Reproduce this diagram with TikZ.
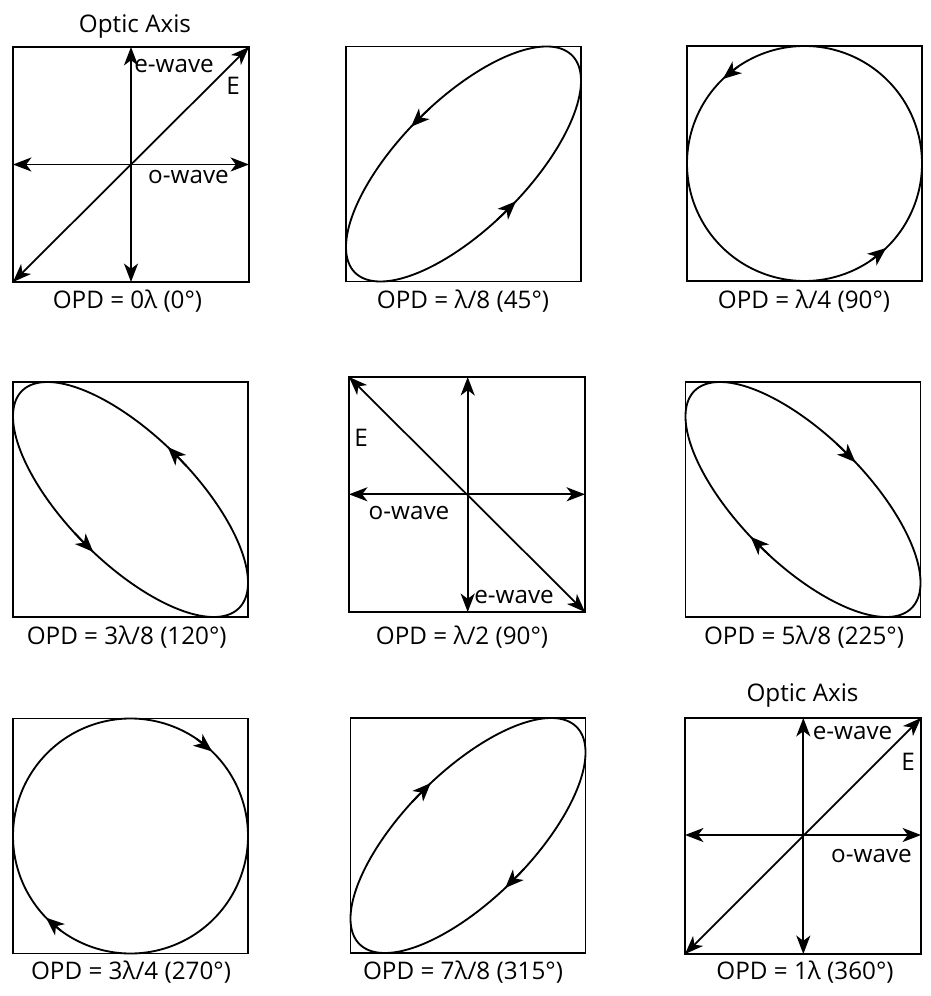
\documentclass[tikz,border=0pt]{standalone}
\usepackage{fontspec}
\setmainfont{Open Sans}
\usetikzlibrary{arrows.meta}
\begin{document}
\begin{tikzpicture}[x=0.02cm,y=-0.02cm,
  frame/.style={line width=0.9pt},
  curve/.style={line width=1.05pt},
  axis/.style={line width=1pt,{Stealth[length=10.5pt,width=8pt,inset=3pt]}-{Stealth[length=10.5pt,width=8pt,inset=3pt]}},
  tip/.style={line width=1pt,-{Stealth[length=10.5pt,width=8.5pt,inset=3pt]}},
  lbl/.style={font=\fontsize{13.8}{16}\selectfont, inner sep=0pt, anchor=base},
]
\useasboundingbox (0,0) rectangle (930,996);

\newcommand\ellbox[5]{% cx cy delta t1 t2
  \draw[frame] (#1-117.5,#2-117.5) rectangle (#1+117.5,#2+117.5);
  \draw[curve] plot[domain=0:359,samples=360] ({#1+117.5*cos(\x)},{#2-117.5*cos(\x-#3)}) -- cycle;
  \draw[tip] ({#1+117.5*cos(#4-6)},{#2-117.5*cos(#4-6-#3)}) -- ({#1+117.5*cos(#4+4)},{#2-117.5*cos(#4+4-#3)});
  \draw[tip] ({#1+117.5*cos(#5-6)},{#2-117.5*cos(#5-6-#3)}) -- ({#1+117.5*cos(#5+4)},{#2-117.5*cos(#5+4-#3)});
}

% ---- Box 1: OPD = 0
\draw[frame] (13,47) rectangle (249,282);
\coordinate (a1t) at (131,47); \coordinate (a1b) at (131,282);
\coordinate (a1l) at (13,164.5); \coordinate (a1r) at (249,164.5);
\coordinate (a1bl) at (13,282); \coordinate (a1tr) at (249,47);
\draw[axis] (a1t) -- (a1b);
\draw[axis] (a1l) -- (a1r);
\draw[axis] (a1bl) -- (a1tr);
\node[lbl] (oa1) at (135,32.5) {Optic Axis};
\node[lbl] (ew1) at (174,72.5) {e-wave};
\node[lbl] (E1) at (233,95) {E};
\node[lbl] (ow1) at (188.5,184) {o-wave};
\node[lbl] (c1) at (127.5,309) {OPD = 0λ (0°)};

% ---- Box 2
\ellbox{463.5}{164}{45}{112.5}{292.5}
\node[lbl] (c2) at (463,309) {OPD = λ/8 (45°)};

% ---- Box 3
\ellbox{804.5}{163.5}{90}{130}{310}
\node[lbl] (c3) at (804,309) {OPD = λ/4 (90°)};

% ---- Box 4
\ellbox{130.5}{499.5}{135}{67.5}{247.5}
\node[lbl] (c4) at (126.7,644) {OPD = 3λ/8 (120°)};

% ---- Box 5
\draw[frame] (349,377) rectangle (585,612);
\coordinate (a5t) at (467.7,377); \coordinate (a5b) at (467.7,612);
\coordinate (a5l) at (349,494.3); \coordinate (a5r) at (585,494.3);
\coordinate (a5tl) at (349,377); \coordinate (a5br) at (585,612);
\draw[axis] (a5t) -- (a5b);
\draw[axis] (a5l) -- (a5r);
\draw[axis] (a5tl) -- (a5br);
\node[lbl] (E5) at (361,446) {E};
\node[lbl] (ow5) at (409,519) {o-wave};
\node[lbl] (ew5) at (514,603) {e-wave};
\node[lbl] (c5) at (462,644) {OPD = λ/2 (90°)};

% ---- Box 6
\ellbox{803}{499.5}{225}{112.5}{292.5}
\node[lbl] (c6) at (804,644) {OPD = 5λ/8 (225°)};

% ---- Box 7
\ellbox{130.5}{836}{270}{132}{310}
\node[lbl] (c7) at (131,979) {OPD = 3λ/4 (270°)};

% ---- Box 8
\ellbox{468}{835.5}{315}{67.5}{247.5}
\node[lbl] (c8) at (463,979) {OPD = 7λ/8 (315°)};

% ---- Box 9
\draw[frame] (685,718) rectangle (921,954);
\coordinate (a9t) at (803.3,718); \coordinate (a9b) at (803.3,954);
\coordinate (a9l) at (685,835); \coordinate (a9r) at (921,835);
\coordinate (a9bl) at (685,954); \coordinate (a9tr) at (921,718);
\draw[axis] (a9t) -- (a9b);
\draw[axis] (a9l) -- (a9r);
\draw[axis] (a9bl) -- (a9tr);
\node[lbl] (oa9) at (802.5,701.7) {Optic Axis};
\node[lbl] (ew9) at (852.5,739) {e-wave};
\node[lbl] (E9) at (908,770) {E};
\node[lbl] (ow9) at (871.5,862.7) {o-wave};
\node[lbl] (c9) at (805,979) {OPD = 1λ (360°)};
\end{tikzpicture}
\end{document}
